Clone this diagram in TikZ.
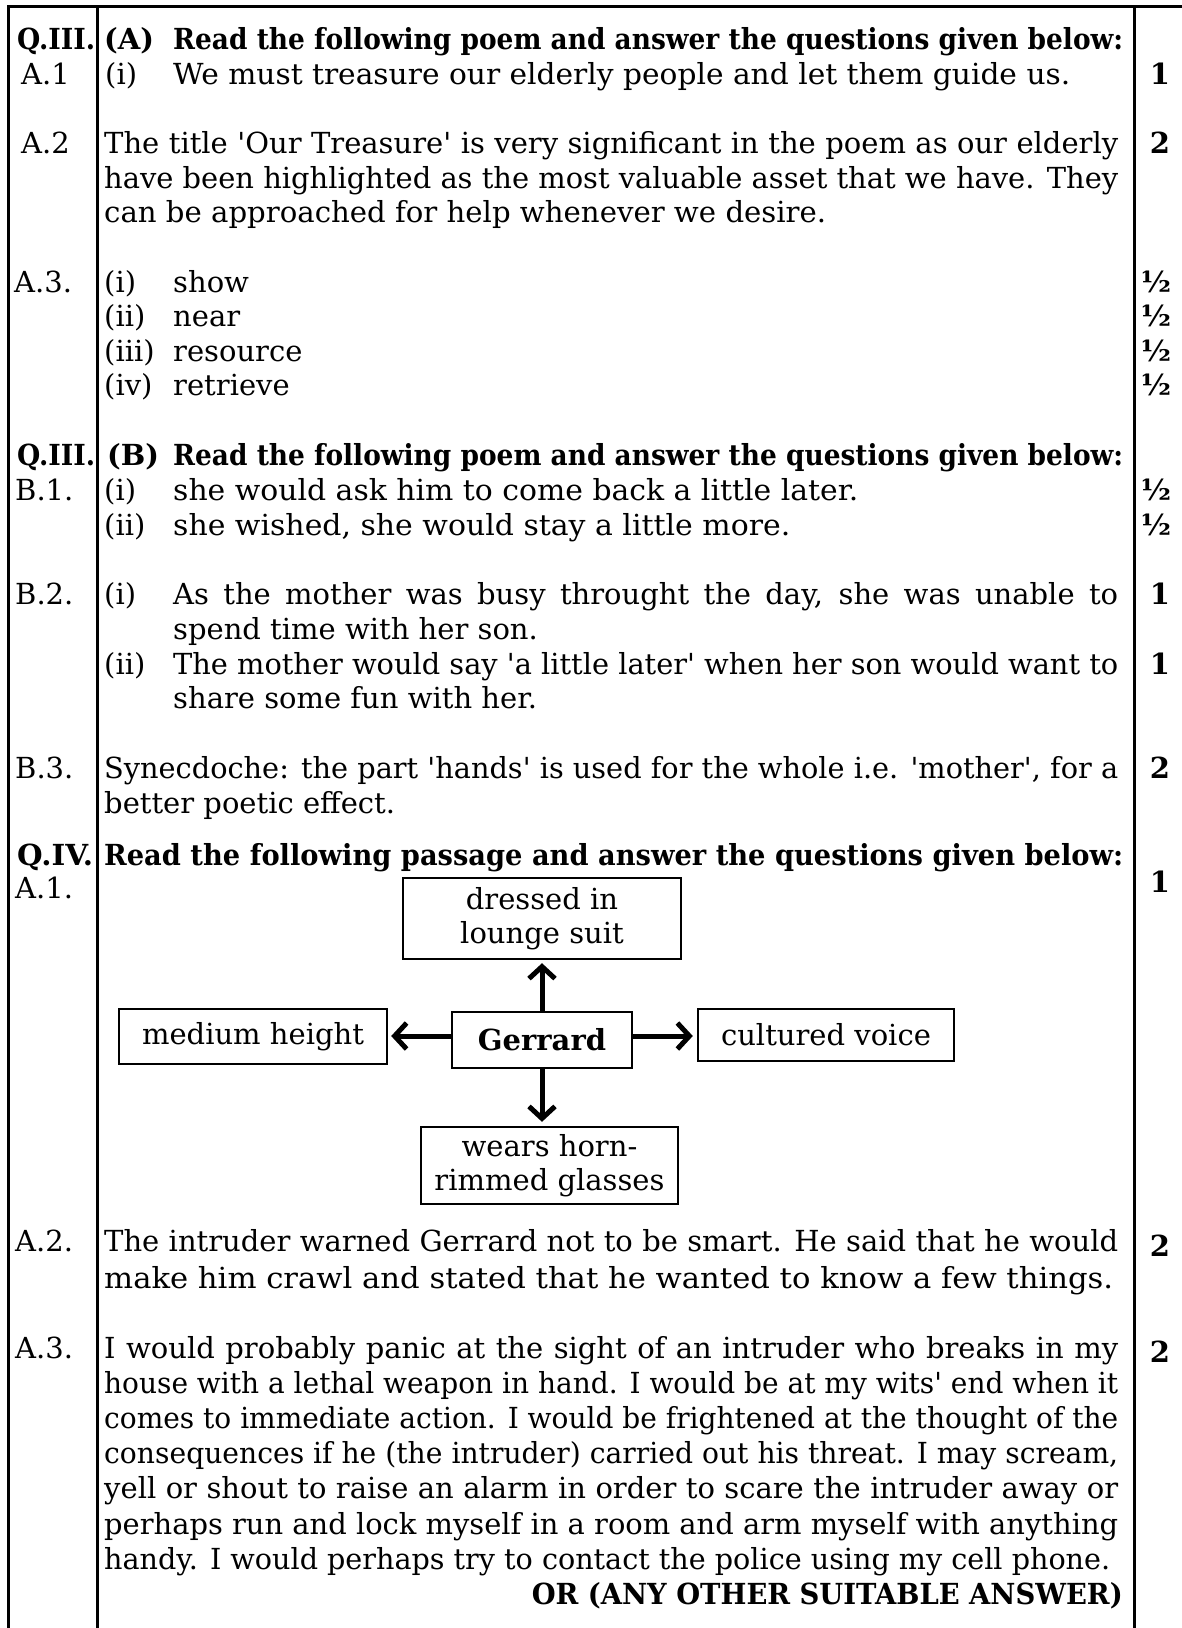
\documentclass[tikz,border=0pt]{standalone}
\usepackage{fontspec}
\setmainfont{DejaVu Serif}[Ligatures=TeXOff]
\usepackage{graphicx}
\usetikzlibrary{arrows.meta,calc}
\newcommand\mainsz{\fontsize{29pt}{34.5pt}\selectfont}
\newlength\natw
\newcommand\jline[2]{\settowidth{\natw}{#2}\ifdim\natw>#1\relax\resizebox{#1}{\height}{#2}\else\makebox[#1][s]{#2}\fi}
\newcommand\fline[2]{\resizebox{#1}{\height}{#2}}
\tikzset{
  txt/.style={anchor=base west, inner sep=0pt, font=\mainsz},
  txtb/.style={anchor=base west, inner sep=0pt, font=\mainsz\bfseries},
  mk/.style={anchor=base, inner sep=0pt, font=\mainsz\bfseries},
  frame/.style={line width=3pt},
  dbox/.style={draw, line width=2.4pt, inner sep=0pt, align=center, font=\mainsz},
  arr/.style={line width=5pt, -{Straight Barb[length=12pt,width=26pt,line width=5pt]}}
}
\begin{document}
\begin{tikzpicture}[x=1pt,y=-1pt]
\useasboundingbox (0,0) rectangle (1182,1628);
% frame
\draw[frame] (8,1628) -- (8,6) -- (1182,6);
\draw[frame] (97,6) -- (97,1628);
\draw[frame] (1134,6) -- (1134,1628);

% Q.III (A)
\node[txtb] (h1l) at (17,49) {\fline{78pt}{Q.III.}};
\node[txtb] (h1a) at (104,49) {(A)};
\node[txtb] (h1t) at (173,49) {\jline{950pt}{Read the following poem and answer the questions given below:}};
% A.1
\node[txt] (a1l) at (21,84) {A.1};
\node[txt] (a1i) at (105,84) {(i)};
\node[txt] (a1t) at (173,84) {\fline{897pt}{We must treasure our elderly people and let them guide us.}};
\node[mk] (a1m) at (1160,84) {1};
% A.2
\node[txt] (a2l) at (21,153) {A.2};
\node[txt] (a2t1) at (104,153) {\jline{1014pt}{The title 'Our Treasure' is very significant in the poem as our elderly}};
\node[txt] (a2t2) at (104,188) {\jline{1014pt}{have been highlighted as the most valuable asset that we have. They}};
\node[txt] (a2t3) at (104,222) {\fline{722pt}{can be approached for help whenever we desire.}};
\node[mk] (a2m) at (1160,153) {2};
% A.3
\node[txt] (a3l) at (14,292) {A.3.};
\node[txt] (a3i) at (104,292) {(i)};
\node[txt] (a3it) at (173,292) {show};
\node[txt] (a3ii) at (104,326) {(ii)};
\node[txt] (a3iit) at (173,326) {near};
\node[txt] (a3iii) at (104,361) {(iii)};
\node[txt] (a3iiit) at (173,361) {resource};
\node[txt] (a3iv) at (104,395) {(iv)};
\node[txt] (a3ivt) at (173,395) {retrieve};
\node[mk] (a3m1) at (1156,292) {½};
\node[mk] (a3m2) at (1156,326) {½};
\node[mk] (a3m3) at (1156,361) {½};
\node[mk] (a3m4) at (1156,395) {½};

% Q.III (B)
\node[txtb] (h2l) at (17,465) {\fline{78pt}{Q.III.}};
\node[txtb] (h2b) at (107,465) {(B)};
\node[txtb] (h2t) at (173,465) {\jline{950pt}{Read the following poem and answer the questions given below:}};
% B.1
\node[txt] (b1l) at (15,500) {B.1.};
\node[txt] (b1i) at (104,500) {(i)};
\node[txt] (b1it) at (173,500) {\fline{685pt}{she would ask him to come back a little later.}};
\node[txt] (b1ii) at (104,535) {(ii)};
\node[txt] (b1iit) at (173,535) {\fline{617pt}{she wished, she would stay a little more.}};
\node[mk] (b1m1) at (1156,500) {½};
\node[mk] (b1m2) at (1156,535) {½};
% B.2
\node[txt] (b2l) at (15,604) {B.2.};
\node[txt] (b2i) at (104,604) {(i)};
\node[txt] (b2it1) at (173,604) {\jline{945pt}{As the mother was busy throught the day, she was unable to}};
\node[txt] (b2it2) at (173,639) {spend time with her son.};
\node[txt] (b2ii) at (104,674) {(ii)};
\node[txt] (b2iit1) at (173,674) {\jline{945pt}{The mother would say 'a little later' when her son would want to}};
\node[txt] (b2iit2) at (173,708) {share some fun with her.};
\node[mk] (b2m1) at (1160,604) {1};
\node[mk] (b2m2) at (1160,674) {1};
% B.3
\node[txt] (b3l) at (15,778) {B.3.};
\node[txt] (b3t1) at (104,778) {\jline{1014pt}{Synecdoche: the part 'hands' is used for the whole i.e. 'mother', for a}};
\node[txt] (b3t2) at (104,813) {better poetic effect.};
\node[mk] (b3m) at (1160,778) {2};

% Q.IV
\node[txtb] (h3l) at (17,865) {\fline{76pt}{Q.IV.}};
\node[txtb] (h3t) at (104,865) {\jline{1019pt}{Read the following passage and answer the questions given below:}};
\node[txt] (c1l) at (15,898) {A.1.};
\node[mk] (c1m) at (1160,892) {1};

% diagram
\node[dbox, minimum width=278pt, minimum height=81pt] (top) at (542,918.5) {dressed in\\lounge suit};
\node[dbox, minimum width=180pt, minimum height=56pt, font=\mainsz\bfseries] (gerrard) at (542,1040) {Gerrard};
\node[dbox, minimum width=268pt, minimum height=55pt] (medium) at (253,1036.5) {medium height};
\node[dbox, minimum width=256pt, minimum height=52pt] (cultured) at (826,1035) {cultured voice};
\node[dbox, minimum width=257pt, minimum height=77pt] (wears) at (549.5,1165.5) {wears horn-\\rimmed glasses};
\draw[arr] (gerrard.north) -- ([yshift=-3pt]gerrard.north |- top.south);
\draw[arr] (gerrard.south) -- ([yshift=4pt]gerrard.south |- wears.north);
\draw[arr] ([yshift=4pt]gerrard.west) -- ([yshift=4pt,xshift=3pt]gerrard.west -| medium.east);
\draw[arr] ([yshift=4pt]gerrard.east) -- ([yshift=4pt,xshift=-4pt]gerrard.east -| cultured.west);

% A.2
\node[txt] (c2l) at (15,1251) {A.2.};
\node[txt] (c2t1) at (104,1251) {\jline{1014pt}{The intruder warned Gerrard not to be smart. He said that he would}};
\node[txt] (c2t2) at (104,1288) {\fline{1009pt}{make him crawl and stated that he wanted to know a few things.}};
\node[mk] (c2m) at (1160,1256) {2};
% A.3
\node[txt] (c3l) at (15,1358) {A.3.};
\node[txt] (c3t1) at (104,1358) {\jline{1014pt}{I would probably panic at the sight of an intruder who breaks in my}};
\node[txt] (c3t2) at (104,1393) {\jline{1014pt}{house with a lethal weapon in hand. I would be at my wits' end when it}};
\node[txt] (c3t3) at (104,1428) {\jline{1014pt}{comes to immediate action. I would be frightened at the thought of the}};
\node[txt] (c3t4) at (104,1463) {\jline{1014pt}{consequences if he (the intruder) carried out his threat. I may scream,}};
\node[txt] (c3t5) at (104,1498) {\jline{1014pt}{yell or shout to raise an alarm in order to scare the intruder away or}};
\node[txt] (c3t6) at (104,1534) {\jline{1014pt}{perhaps run and lock myself in a room and arm myself with anything}};
\node[txt] (c3t7) at (104,1569) {\fline{1006pt}{handy. I would perhaps try to contact the police using my cell phone.}};
\node[txtb, anchor=base east] (c3or) at (1123,1604) {\fline{591pt}{OR (ANY OTHER SUITABLE ANSWER)}};
\node[mk] (c3m) at (1160,1362) {2};
\end{tikzpicture}
\end{document}
